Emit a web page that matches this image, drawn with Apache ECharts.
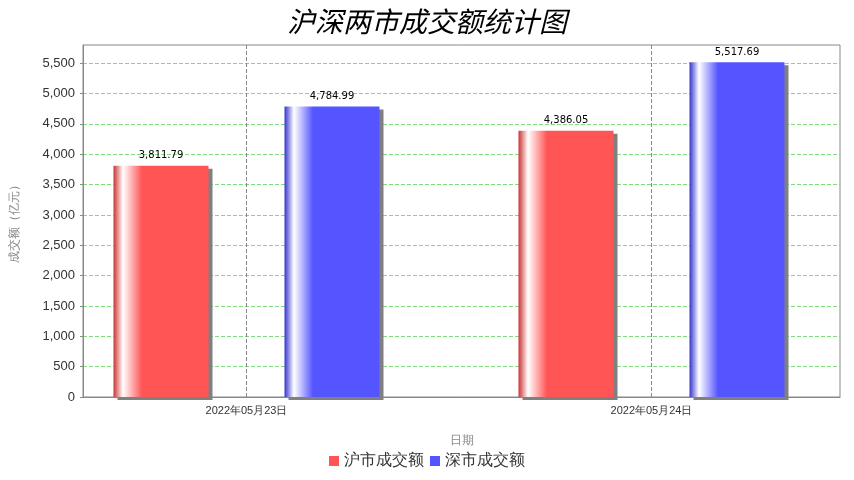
<!DOCTYPE html><html><head><meta charset="utf-8">
<script src="https://cdn.jsdelivr.net/npm/echarts@6/dist/echarts.min.js"></script></head>
<body style="margin:0"><div id="c" style="width:854px;height:480px"></div><script>
const categories=['2022年05月23日','2022年05月24日'];
const shValues=[3811.79,4386.05];
const szValues=[4784.99,5517.69];
const seriesNames=['沪市成交额','深市成交额'];
function grad(c1,c2){return {type:'linear',x:0,y:0,x2:1,y2:0,colorStops:[{offset:0,color:c1},{offset:0.1,color:'#ffffff'},{offset:0.3,color:c2},{offset:1,color:c2}]};}
const fmt=p=>p.value.toLocaleString('en-US',{minimumFractionDigits:2,maximumFractionDigits:2});
function s(name,data,c1,c2){return {name,type:'bar',data,barWidth:95,barGap:'80%',xAxisIndex:1,yAxisIndex:1,
 itemStyle:{color:grad(c1,c2),shadowColor:'#808080',shadowOffsetX:4,shadowOffsetY:3,shadowBlur:0},
 label:{show:true,position:'top',formatter:fmt,fontSize:10,color:'#000',fontFamily:'DejaVu Sans'}};}
const ch=echarts.init(document.getElementById('c'));
const yBase={type:'value',min:0,max:5800,interval:500};
ch.setOption({
 title:{text:'沪深两市成交额统计图',left:'center',top:2,textStyle:{fontFamily:'Noto Sans CJK SC',fontStyle:'italic',fontWeight:'normal',fontSize:28,color:'#000'}},
 legend:{bottom:6,itemWidth:10,itemHeight:10,itemGap:6,icon:'rect',textStyle:{fontSize:16,color:'#333'},data:[{name:seriesNames[0],itemStyle:{color:'#ff5555'}},{name:seriesNames[1],itemStyle:{color:'#5555ff'}}]},
 grid:[{left:83,right:14,top:45,bottom:83,show:true,borderColor:'#888',borderWidth:1,backgroundColor:'transparent'},
       {left:44,width:836,top:45,bottom:83}],
 xAxis:[{type:'category',gridIndex:0,data:['a'],axisLine:{lineStyle:{color:'#888'}},axisTick:{show:false},axisLabel:{show:false},
   name:'日期',nameLocation:'middle',nameGap:38,nameTextStyle:{color:'#888',fontSize:12}},
  {type:'category',gridIndex:1,data:categories,axisLine:{show:false},axisTick:{show:false},axisLabel:{color:'#333',fontSize:11}},
  {type:'value',gridIndex:1,min:0,max:2,show:false}],
 yAxis:[Object.assign({},yBase,{gridIndex:0,name:'成交额（亿元）',nameLocation:'middle',nameGap:62,nameTextStyle:{color:'#888',fontSize:12},
  axisLine:{show:true,lineStyle:{color:'#888'}},axisTick:{show:true,length:3},
  axisLabel:{color:'#333',fontSize:13,showMaxLabel:false,formatter:v=>v.toLocaleString('en-US')},
  splitLine:{showMaxLine:false,lineStyle:{color:'#7fdc7f',type:'dashed'}}}),
  Object.assign({},yBase,{gridIndex:1,show:false})],
 series:[s(seriesNames[0],shValues,'#cc3333','#ff5555'),s(seriesNames[1],szValues,'#3333cc','#5555ff'),
  {type:'line',xAxisIndex:2,yAxisIndex:1,data:[],silent:true,
   markLine:{silent:true,symbol:'none',label:{show:false},lineStyle:{color:'#888',type:'dashed',width:1},data:[{xAxis:0.5},{xAxis:1.5}]}}]
});
</script></body></html>
